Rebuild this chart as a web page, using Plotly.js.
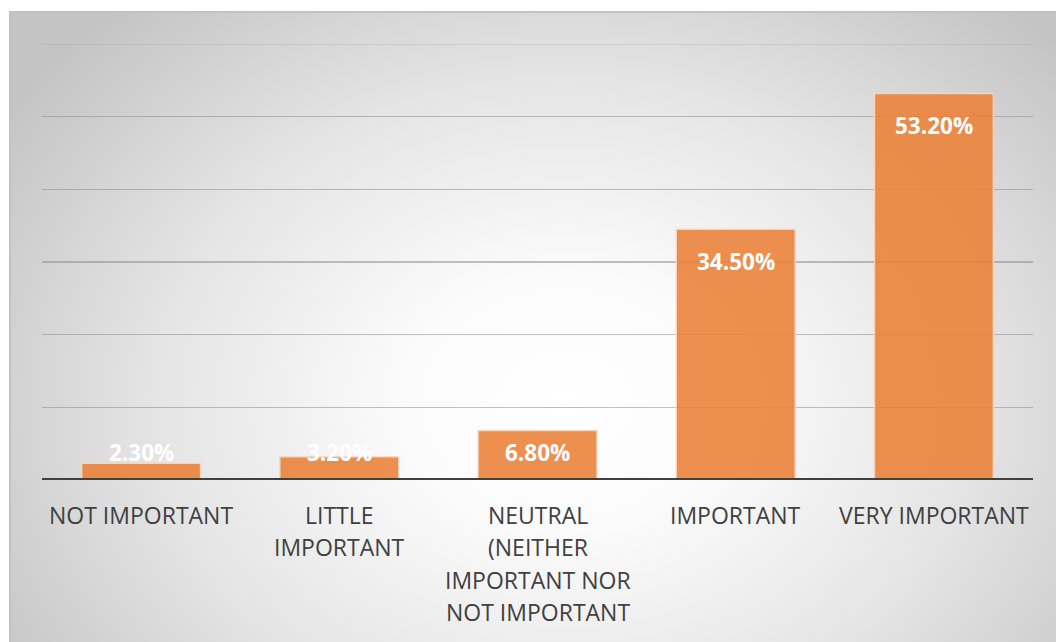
<!DOCTYPE html>
<html>
<head>
<meta charset="utf-8">
<script src="https://cdn.plot.ly/plotly-3.0.1.min.js"></script>
<style>
  html, body { margin:0; padding:0; background:#ffffff; }
  #wrap { position:relative; width:1056px; height:642px; overflow:hidden; }
  #bg { position:absolute; left:9px; top:11px; right:0; bottom:0;
        border-top:2px solid #c2c2c2; border-left:2px solid #c2c2c2;
        background: radial-gradient(ellipse 64% 84% at 53% 62%, #ffffff 0%, #fbfbfb 24%, #e4e4e4 62%, #c4c4c4 100%); }
  #chart { position:absolute; left:0; top:0; width:1056px; height:642px; }
</style>
</head>
<body>
<div id="wrap"><div id="bg"></div><div id="chart"></div></div>
<script>
const categories = ["NOT IMPORTANT", "LITTLE<br>IMPORTANT", "NEUTRAL<br>(NEITHER<br>IMPORTANT NOR<br>NOT IMPORTANT", "IMPORTANT", "VERY IMPORTANT"];
const values = [2.3, 3.2, 6.8, 34.5, 53.2];
const valueLabels = ["2.30%", "3.20%", "6.80%", "34.50%", "53.20%"];
const yTicks = [0, 10, 20, 30, 40, 50, 60];

const W = 1056, H = 642;
const margin = {l: 42, r: 23, t: 44, b: 162};
const yMax = 60;
const pxPerUnit = (H - margin.t - margin.b) / yMax;
const FONT = "'Open Sans', 'Noto Sans', sans-serif";

const annotations = [];
categories.forEach(function (cat) {
  cat.split("<br>").forEach(function (line, i) {
    annotations.push({
      x: cat, y: 0, xref: "x", yref: "y",
      text: line, showarrow: false,
      yanchor: "middle", xanchor: "center",
      yshift: -(35 + i * 32.4),
      font: {family: FONT, size: 23, color: "#404040"}
    });
  });
});
values.forEach(function (v, i) {
  const h = v * pxPerUnit;
  const c = Math.max(h - 32, 28);
  annotations.push({
    x: categories[i], y: 0, xref: "x", yref: "y",
    text: "<b>" + valueLabels[i] + "</b>", showarrow: false,
    yanchor: "middle", xanchor: "center", yshift: c,
    font: {family: FONT, size: 22.5, color: "#ffffff"}
  });
});

const trace = {
  type: "bar",
  x: categories,
  y: values,
  marker: {color: "rgba(235,128,55,0.88)", line: {color: "rgba(252,215,190,0.9)", width: 1.5}},
  hoverinfo: "none"
};

const layout = {
  width: W, height: H,
  margin: margin,
  paper_bgcolor: "rgba(0,0,0,0)",
  plot_bgcolor: "rgba(0,0,0,0)",
  bargap: 0.4,
  showlegend: false,
  xaxis: {type: "category", showticklabels: false, showgrid: false, zeroline: false, showline: false, ticks: ""},
  yaxis: {range: [0, yMax], tickvals: yTicks, showticklabels: false, showgrid: true,
          gridcolor: "rgba(140,140,140,0.55)", gridwidth: 1.5, zeroline: false, showline: false, ticks: ""},
  shapes: [
    {type: "line", xref: "paper", yref: "y", x0: 0, x1: 1, y0: yMax, y1: yMax,
     line: {color: "rgba(170,170,170,0.35)", width: 2}, layer: "below"},
    {type: "line", xref: "paper", yref: "y", x0: 0, x1: 1, y0: 0, y1: 0,
     line: {color: "#404040", width: 4}, layer: "above"}
  ],
  annotations: annotations
};

Plotly.newPlot("chart", [trace], layout, {displayModeBar: false, staticPlot: true});
</script>
</body>
</html>
